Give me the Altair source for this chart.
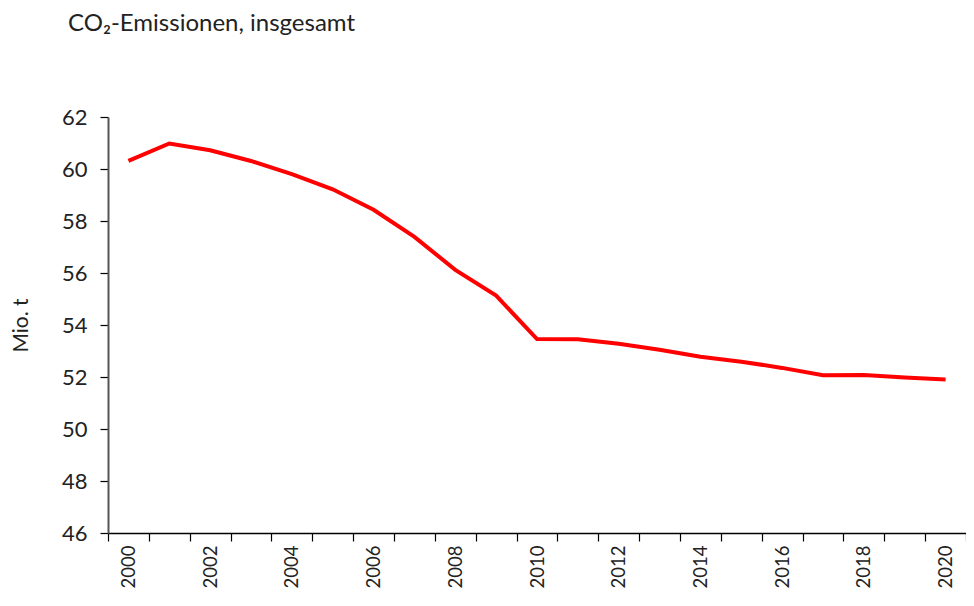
import altair as alt
import pandas as pd

years = list(range(2000, 2021))
values = [60.31, 60.98, 60.72, 60.31, 59.80, 59.22, 58.43, 57.39, 56.12, 55.13,
          53.46, 53.45, 53.28, 53.05, 52.78, 52.59, 52.35, 52.07, 52.08, 51.98, 51.90]
y_ticks = [46, 48, 50, 52, 54, 56, 58, 60, 62]

df = pd.DataFrame({"Jahr": years, "Wert": values})

FONT = "Lato"
TXT = "#222222"

chart = alt.Chart(df).mark_line(color="#FF0000", strokeWidth=4).encode(
    x=alt.X(
        "Jahr:O",
        bandPosition=0.5,
        scale=alt.Scale(type="band", paddingInner=0, paddingOuter=0),
        axis=alt.Axis(
            title=None,
            labelAngle=-90,
            labelFontSize=18.5,
            labelFont=FONT,
            labelColor=TXT,
            labelPadding=4,
            labelExpr="datum.value % 2 == 0 ? datum.label : ''",
            tickBand="extent",
            tickSize=8,
            tickColor="#000000",
            domainColor="#000000",
            domainWidth=1.5,
            tickWidth=1.2,
            grid=False,
        ),
    ),
    y=alt.Y(
        "Wert:Q",
        scale=alt.Scale(domain=[46, 62], nice=False, zero=False),
        axis=alt.Axis(
            title="Mio. t",
            titleFontSize=21,
            titleFont=FONT,
            titleFontWeight="normal",
            titleColor=TXT,
            titlePadding=30,
            values=y_ticks,
            labelFontSize=22,
            labelFont=FONT,
            labelColor=TXT,
            labelPadding=13,
            tickSize=8,
            tickColor="#000000",
            tickWidth=1.2,
            domainColor="#555555",
            domainWidth=2,
            grid=False,
        ),
    ),
).properties(
    width=858,
    height=416,
    autosize=alt.AutoSizeParams(type="none"),
    padding={"left": 100, "top": 109, "right": 0, "bottom": 60},
    title=alt.TitleParams(
        text="CO₂-Emissionen, insgesamt",
        anchor="start",
        frame="group",
        font=FONT,
        fontSize=24,
        fontWeight="normal",
        color=TXT,
        dx=-40,
        offset=70,
    ),
).configure_view(stroke=None)

chart.save("out.html", embed_options={"renderer": "svg", "actions": False})
